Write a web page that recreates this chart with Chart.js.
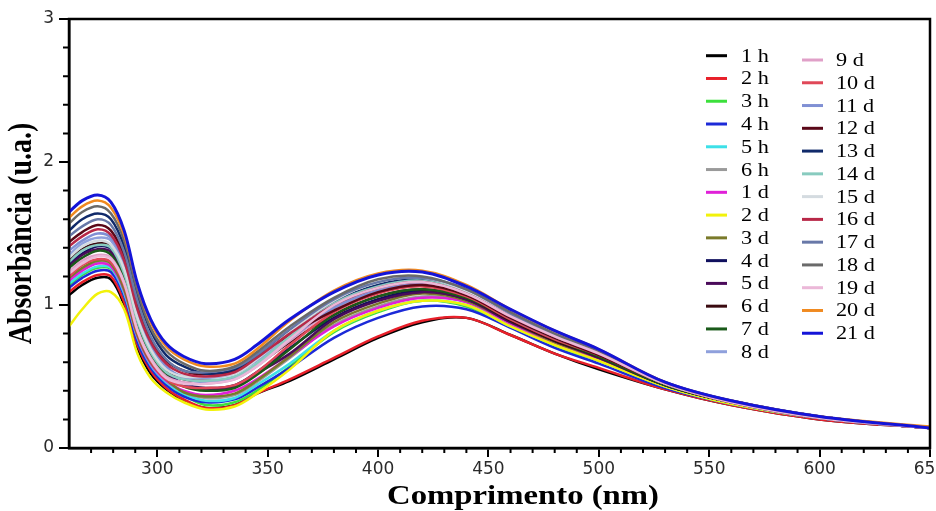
<!DOCTYPE html>
<html>
<head>
<meta charset="utf-8">
<script src="https://cdn.jsdelivr.net/npm/chart.js@4.4.1/dist/chart.umd.min.js"></script>
<style>
  html, body { margin: 0; padding: 0; background: #fff; }
  canvas { display: block; }
</style>
</head>
<body>
<canvas id="chart" width="936" height="511"></canvas>
<script>
// comprimento de onda (nm)
const wavelengths = [260, 266, 273, 279, 285, 291, 297, 304, 312, 322, 335, 345, 360, 380, 400, 420, 440, 460, 480, 500, 530, 560, 600, 650];

// absorbância de cada medida
const a1h  = [1.07, 1.14, 1.19, 1.18, 1.00, 0.70, 0.52, 0.41, 0.33, 0.28, 0.30, 0.38, 0.47, 0.62, 0.77, 0.88, 0.91, 0.79, 0.66, 0.55, 0.41, 0.30, 0.20, 0.14];
const a2h  = [1.09, 1.16, 1.21, 1.20, 1.02, 0.72, 0.54, 0.42, 0.34, 0.28, 0.30, 0.38, 0.48, 0.63, 0.78, 0.89, 0.91, 0.79, 0.66, 0.56, 0.41, 0.30, 0.20, 0.14];
const a3h  = [1.14, 1.21, 1.26, 1.25, 1.07, 0.76, 0.57, 0.45, 0.37, 0.30, 0.32, 0.40, 0.57, 0.81, 0.95, 1.03, 0.99, 0.85, 0.71, 0.61, 0.43, 0.31, 0.21, 0.14];
const a4h  = [1.12, 1.19, 1.24, 1.23, 1.06, 0.74, 0.56, 0.44, 0.36, 0.32, 0.34, 0.42, 0.56, 0.77, 0.91, 0.99, 0.97, 0.84, 0.70, 0.59, 0.42, 0.31, 0.21, 0.14];
const a5h  = [1.15, 1.22, 1.27, 1.26, 1.08, 0.77, 0.58, 0.46, 0.38, 0.33, 0.35, 0.44, 0.59, 0.82, 0.96, 1.03, 1.00, 0.85, 0.72, 0.61, 0.43, 0.31, 0.21, 0.14];
const a6h  = [1.18, 1.25, 1.30, 1.28, 1.11, 0.79, 0.60, 0.48, 0.39, 0.35, 0.37, 0.46, 0.63, 0.86, 0.99, 1.06, 1.02, 0.87, 0.73, 0.62, 0.44, 0.32, 0.21, 0.14];
const a1d  = [1.17, 1.24, 1.29, 1.27, 1.10, 0.78, 0.59, 0.47, 0.40, 0.37, 0.40, 0.48, 0.64, 0.85, 0.98, 1.05, 1.02, 0.87, 0.73, 0.62, 0.44, 0.32, 0.21, 0.14];
const a2d  = [0.85, 0.97, 1.08, 1.09, 0.97, 0.66, 0.49, 0.39, 0.32, 0.27, 0.29, 0.38, 0.55, 0.82, 0.96, 1.03, 1.00, 0.85, 0.72, 0.61, 0.43, 0.31, 0.21, 0.14];
const a3d  = [1.19, 1.26, 1.31, 1.29, 1.11, 0.79, 0.60, 0.48, 0.39, 0.36, 0.38, 0.47, 0.64, 0.88, 1.01, 1.08, 1.03, 0.88, 0.74, 0.63, 0.44, 0.32, 0.21, 0.14];
const a4d  = [1.29, 1.36, 1.41, 1.39, 1.21, 0.88, 0.67, 0.53, 0.45, 0.42, 0.44, 0.53, 0.70, 0.91, 1.04, 1.10, 1.04, 0.89, 0.75, 0.64, 0.44, 0.32, 0.21, 0.14];
const a5d  = [1.27, 1.35, 1.39, 1.37, 1.20, 0.87, 0.66, 0.52, 0.44, 0.41, 0.43, 0.52, 0.66, 0.90, 1.03, 1.09, 1.04, 0.88, 0.75, 0.63, 0.44, 0.32, 0.21, 0.14];
const a6d  = [1.31, 1.39, 1.43, 1.41, 1.23, 0.90, 0.68, 0.54, 0.48, 0.47, 0.49, 0.58, 0.74, 0.93, 1.06, 1.11, 1.05, 0.89, 0.75, 0.64, 0.44, 0.32, 0.21, 0.14];
const a7d  = [1.26, 1.33, 1.38, 1.35, 1.18, 0.85, 0.64, 0.51, 0.43, 0.40, 0.42, 0.51, 0.69, 0.93, 1.06, 1.11, 1.05, 0.90, 0.76, 0.64, 0.44, 0.32, 0.21, 0.14];
const a8d  = [1.35, 1.43, 1.47, 1.45, 1.27, 0.93, 0.71, 0.56, 0.50, 0.49, 0.52, 0.61, 0.78, 0.99, 1.11, 1.16, 1.08, 0.92, 0.78, 0.66, 0.45, 0.32, 0.21, 0.14];
const a9d  = [1.23, 1.31, 1.35, 1.33, 1.16, 0.83, 0.63, 0.50, 0.46, 0.45, 0.48, 0.57, 0.75, 0.97, 1.10, 1.15, 1.07, 0.91, 0.77, 0.66, 0.45, 0.32, 0.21, 0.14];
const a10d = [1.20, 1.28, 1.32, 1.30, 1.14, 0.81, 0.61, 0.48, 0.43, 0.42, 0.44, 0.53, 0.72, 0.95, 1.08, 1.13, 1.06, 0.90, 0.76, 0.65, 0.45, 0.32, 0.21, 0.14];
const a11d = [1.38, 1.45, 1.50, 1.47, 1.29, 0.95, 0.72, 0.57, 0.49, 0.46, 0.49, 0.58, 0.76, 0.98, 1.10, 1.15, 1.08, 0.91, 0.77, 0.66, 0.45, 0.32, 0.21, 0.14];
const a12d = [1.44, 1.51, 1.56, 1.52, 1.34, 1.00, 0.76, 0.61, 0.54, 0.51, 0.54, 0.64, 0.79, 0.96, 1.09, 1.14, 1.07, 0.91, 0.77, 0.65, 0.45, 0.32, 0.21, 0.14];
const a13d = [1.52, 1.60, 1.64, 1.60, 1.41, 1.07, 0.82, 0.65, 0.57, 0.52, 0.55, 0.65, 0.82, 1.02, 1.14, 1.18, 1.10, 0.93, 0.79, 0.67, 0.45, 0.33, 0.22, 0.14];
const a14d = [1.30, 1.38, 1.42, 1.40, 1.22, 0.89, 0.67, 0.53, 0.48, 0.47, 0.50, 0.59, 0.78, 1.01, 1.13, 1.17, 1.09, 0.93, 0.78, 0.67, 0.45, 0.33, 0.22, 0.14];
const a15d = [1.33, 1.41, 1.45, 1.42, 1.25, 0.91, 0.69, 0.55, 0.50, 0.50, 0.52, 0.62, 0.81, 1.03, 1.16, 1.19, 1.10, 0.94, 0.79, 0.67, 0.45, 0.33, 0.22, 0.14];
const a16d = [1.41, 1.48, 1.53, 1.49, 1.31, 0.97, 0.74, 0.59, 0.52, 0.50, 0.53, 0.63, 0.80, 1.00, 1.12, 1.16, 1.08, 0.92, 0.78, 0.66, 0.45, 0.33, 0.22, 0.14];
const a17d = [1.48, 1.55, 1.60, 1.56, 1.37, 1.03, 0.78, 0.62, 0.54, 0.53, 0.56, 0.65, 0.83, 1.04, 1.16, 1.19, 1.11, 0.94, 0.79, 0.68, 0.46, 0.33, 0.22, 0.14];
const a18d = [1.57, 1.65, 1.69, 1.64, 1.45, 1.10, 0.84, 0.68, 0.59, 0.54, 0.57, 0.67, 0.85, 1.05, 1.18, 1.20, 1.11, 0.95, 0.80, 0.68, 0.46, 0.33, 0.22, 0.14];
const a19d = [1.22, 1.29, 1.34, 1.32, 1.15, 0.82, 0.62, 0.49, 0.45, 0.45, 0.48, 0.57, 0.76, 1.00, 1.12, 1.16, 1.08, 0.92, 0.78, 0.66, 0.45, 0.32, 0.21, 0.14];
const a20d = [1.61, 1.69, 1.73, 1.68, 1.49, 1.14, 0.88, 0.71, 0.62, 0.57, 0.59, 0.69, 0.89, 1.10, 1.22, 1.24, 1.14, 0.97, 0.82, 0.69, 0.46, 0.33, 0.22, 0.15];
const a21d = [1.65, 1.73, 1.77, 1.72, 1.52, 1.15, 0.90, 0.73, 0.64, 0.59, 0.62, 0.72, 0.90, 1.09, 1.21, 1.23, 1.13, 0.97, 0.82, 0.69, 0.46, 0.33, 0.22, 0.14];

const seriesNames = ['1 h', '2 h', '3 h', '4 h', '5 h', '6 h', '1 d', '2 d', '3 d', '4 d', '5 d', '6 d', '7 d', '8 d',
  '9 d', '10 d', '11 d', '12 d', '13 d', '14 d', '15 d', '16 d', '17 d', '18 d', '19 d', '20 d', '21 d'];
const seriesValues = [a1h, a2h, a3h, a4h, a5h, a6h, a1d, a2d, a3d, a4d, a5d, a6d, a7d, a8d,
  a9d, a10d, a11d, a12d, a13d, a14d, a15d, a16d, a17d, a18d, a19d, a20d, a21d];
const seriesColors = ['#000000', '#e8202a', '#3ce03c', '#1c2ad8', '#3de0e8', '#9a9a9a', '#e020d8', '#f2f20a',
  '#7a7a2a', '#10105e', '#4a0a5a', '#3a0a10', '#1a5a1a', '#8fa0dc', '#e0a0c8', '#e04858', '#8090d4',
  '#5a0818', '#102a6a', '#88cbbf', '#d4dbe0', '#b82848', '#6878a8', '#6a6a6a', '#ebb8d8', '#f08a20', '#1414d8'];

const xTickLabels = [300, 350, 400, 450, 500, 550, 600, 650];
const yTickLabels = [0, 1, 2, 3];

const STRETCH = 1.17; // a figura original está esticada na horizontal

const datasets = seriesNames.map((name, i) => ({
  label: name,
  data: wavelengths.map((w, j) => ({ x: w, y: seriesValues[i][j] })),
  borderColor: seriesColors[i],
  borderWidth: i === seriesNames.length - 1 ? 3 : 2.5,
  pointRadius: 0,
  fill: false,
  tension: 0.35,
  order: seriesNames.length - i // a última medida fica por cima
}));

// moldura, ticks menores, legenda em duas colunas e títulos dos eixos
const decorPlugin = {
  id: 'decor',
  afterDraw(chart) {
    const { ctx, chartArea: a, scales } = chart;
    ctx.save();
    ctx.strokeStyle = '#000';
    ctx.lineWidth = 2.5;
    ctx.strokeRect(a.left, a.top, a.right - a.left, a.bottom - a.top);

    // ticks menores
    ctx.lineWidth = 2;
    ctx.beginPath();
    for (let v = 270; v < 650; v += 10) {
      if (v % 50 === 0) continue;
      const px = scales.x.getPixelForValue(v);
      ctx.moveTo(px, a.bottom);
      ctx.lineTo(px, a.bottom + 5);
    }
    for (let k = 1; k < 15; k++) {
      if (k % 5 === 0) continue;
      const py = scales.y.getPixelForValue(k * 0.2);
      ctx.moveTo(a.left, py);
      ctx.lineTo(a.left - 6, py);
    }
    ctx.stroke();

    // legenda
    const rowH = 22.77;
    const cols = [
      { from: 0, to: 14, x0: 706, x1: 727, tx: 741, y0: 55.7 },
      { from: 14, to: 27, x0: 802, x1: 823, tx: 836, y0: 60 }
    ];
    ctx.font = '19px "Liberation Serif", "Times New Roman", serif';
    ctx.textBaseline = 'middle';
    ctx.textAlign = 'left';
    cols.forEach(c => {
      for (let i = c.from; i < c.to; i++) {
        const y = c.y0 + (i - c.from) * rowH;
        ctx.strokeStyle = seriesColors[i];
        ctx.lineWidth = 3;
        ctx.beginPath();
        ctx.moveTo(c.x0, y);
        ctx.lineTo(c.x1, y);
        ctx.stroke();
        ctx.save();
        ctx.translate(c.tx, y + 1);
        ctx.scale(STRETCH, 1);
        ctx.fillStyle = '#000';
        ctx.fillText(seriesNames[i], 0, 0);
        ctx.restore();
      }
    });

    // títulos dos eixos
    ctx.fillStyle = '#000';
    ctx.font = 'bold 28px "Liberation Serif", "Times New Roman", serif';
    ctx.textAlign = 'center';
    ctx.textBaseline = 'alphabetic';
    ctx.save();
    ctx.translate(523, 504);
    ctx.scale(STRETCH, 1);
    ctx.fillText('Comprimento (nm)', 0, 0);
    ctx.restore();

    ctx.save();
    ctx.translate(31, (a.top + a.bottom) / 2);
    ctx.scale(STRETCH, 1);
    ctx.rotate(-Math.PI / 2);
    ctx.fillText('Absorbância (u.a.)', 0, 0);
    ctx.restore();

    ctx.restore();
  }
};

const ctx = document.getElementById('chart').getContext('2d');
new Chart(ctx, {
  type: 'line',
  data: { datasets },
  plugins: [decorPlugin],
  options: {
    responsive: false,
    animation: false,
    devicePixelRatio: 1,
    layout: { padding: { top: 19, right: 6, left: 0, bottom: 0 } },
    plugins: {
      legend: { display: false },
      tooltip: { enabled: false }
    },
    scales: {
      x: {
        type: 'linear',
        min: 260,
        max: 650,
        afterBuildTicks: s => { s.ticks = xTickLabels.map(v => ({ value: v })); },
        afterFit: s => { s.height = 63; s.paddingLeft = 0; s.paddingRight = 0; },
        grid: { drawOnChartArea: false, drawTicks: true, tickLength: 9, color: '#000', lineWidth: 2 },
        border: { display: true, color: '#000', width: 2.5 },
        ticks: {
          autoSkip: false,
          maxRotation: 0,
          padding: 2,
          color: '#2a2a2a',
          font: { family: '"DejaVu Sans", Verdana, sans-serif', size: 17 }
        }
      },
      y: {
        min: 0,
        max: 3,
        afterBuildTicks: s => { s.ticks = yTickLabels.map(v => ({ value: v })); },
        afterFit: s => { s.width = 69; s.paddingTop = 0; s.paddingBottom = 0; },
        grid: { drawOnChartArea: false, drawTicks: true, tickLength: 10, color: '#000', lineWidth: 2 },
        border: { display: true, color: '#000', width: 2.5 },
        ticks: {
          padding: 5,
          color: '#2a2a2a',
          font: { family: '"DejaVu Sans", Verdana, sans-serif', size: 17 }
        }
      }
    }
  }
});
</script>
</body>
</html>
